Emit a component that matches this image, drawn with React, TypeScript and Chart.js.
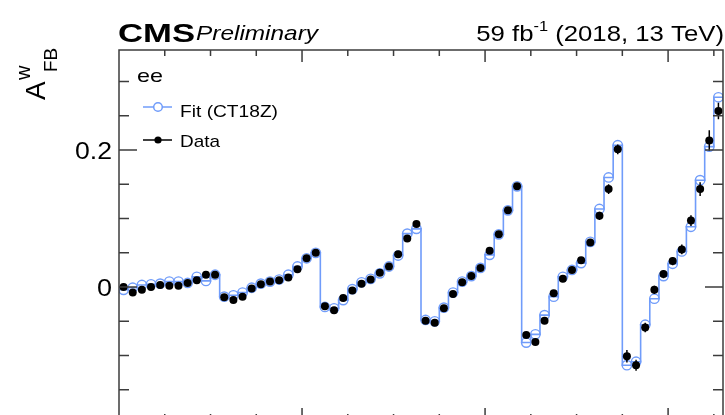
import React, { useEffect, useRef } from 'react';
import { Chart, registerables } from 'chart.js';

Chart.register(...registerables);

// 66 bins: 6 rapidity slices x 11 mass bins
const binCount = 66;

const fitValues = [
  -0.004, -0.001, 0.003, 0.004, 0.005, 0.008, 0.008, 0.006, 0.015, 0.009, 0.018,
  -0.014, -0.012, -0.008, -0.001, 0.005, 0.008, 0.011, 0.018, 0.030, 0.042, 0.050,
  -0.029, -0.031, -0.019, -0.003, 0.007, 0.012, 0.020, 0.030, 0.046, 0.078, 0.085,
  -0.048, -0.050, -0.030, -0.008, 0.008, 0.016, 0.028, 0.047, 0.077, 0.112, 0.147,
  -0.081, -0.069, -0.041, -0.014, 0.015, 0.025, 0.035, 0.066, 0.114, 0.160, 0.207,
  -0.114, -0.109, -0.055, -0.017, 0.016, 0.034, 0.052, 0.088, 0.156, 0.205, 0.277,
];

const dataValues = [
  0.000, -0.008, -0.004, 0.000, 0.003, 0.002, 0.002, 0.006, 0.010, 0.018, 0.018,
  -0.015, -0.019, -0.014, -0.002, 0.004, 0.008, 0.010, 0.014, 0.026, 0.042, 0.050,
  -0.028, -0.034, -0.016, -0.005, 0.005, 0.011, 0.021, 0.030, 0.048, 0.071, 0.092,
  -0.049, -0.052, -0.031, -0.010, 0.007, 0.016, 0.028, 0.053, 0.077, 0.112, 0.147,
  -0.070, -0.080, -0.049, -0.009, 0.012, 0.025, 0.039, 0.065, 0.104, 0.143, 0.201,
  -0.101, -0.114, -0.059, -0.004, 0.019, 0.038, 0.055, 0.097, 0.143, 0.214, 0.257,
];

const dataErrors = [
  0.002, 0.002, 0.002, 0.002, 0.002, 0.002, 0.002, 0.002, 0.002, 0.002, 0.002,
  0.002, 0.002, 0.002, 0.002, 0.002, 0.002, 0.002, 0.002, 0.002, 0.002, 0.002,
  0.003, 0.003, 0.003, 0.003, 0.003, 0.003, 0.003, 0.003, 0.003, 0.003, 0.003,
  0.003, 0.003, 0.003, 0.003, 0.003, 0.003, 0.003, 0.004, 0.004, 0.004, 0.004,
  0.004, 0.004, 0.004, 0.004, 0.004, 0.004, 0.004, 0.005, 0.006, 0.007, 0.007,
  0.009, 0.008, 0.007, 0.006, 0.006, 0.006, 0.007, 0.008, 0.010, 0.015, 0.012,
];

const yMajorTicks = [0, 0.2];
const yTickLabels = ['0', '0.2'];
const legendLabels = ['Fit (CT18Z)', 'Data'];
const channelLabel = 'ee';
const expLabel = 'CMS';
const statusLabel = 'Preliminary';
const lumiParts = ['59 fb', '-1', ' (2018, 13 TeV)'];

const FIT_COLOR = 'rgb(112,156,250)';
const FRAME_COLOR = '#3c3c3c';
const FONT = '"Liberation Sans", Arial, Helvetica, sans-serif';

function drawText(
  ctx: CanvasRenderingContext2D,
  text: string,
  x: number,
  y: number,
  font: string,
  targetWidth?: number,
  align: CanvasTextAlign = 'left'
) {
  ctx.save();
  ctx.font = font;
  const w = ctx.measureText(text).width;
  const sx = targetWidth ? targetWidth / w : 1;
  ctx.translate(x, y);
  ctx.scale(sx, 1);
  ctx.textAlign = align;
  ctx.textBaseline = 'alphabetic';
  ctx.fillStyle = '#000';
  ctx.fillText(text, 0, 0);
  ctx.restore();
}

const cmsPlugin = {
  id: 'cmsStyle',
  beforeDatasetDraw(chart: any, args: any) {
    if (args.index !== 0) return;
    const { ctx, scales } = chart;
    const xs = scales.x;
    const ys = scales.y;
    ctx.save();
    ctx.strokeStyle = '#000';
    ctx.lineWidth = 1.5;
    ctx.beginPath();
    dataValues.forEach((v, i) => {
      const px = xs.getPixelForValue(i + 0.5);
      ctx.moveTo(px, ys.getPixelForValue(v - dataErrors[i]));
      ctx.lineTo(px, ys.getPixelForValue(v + dataErrors[i]));
    });
    ctx.stroke();
    ctx.restore();
  },
  afterDatasetsDraw(chart: any) {
    const { ctx, chartArea, scales } = chart;
    const { left, top, right, bottom } = chartArea;
    const xs = scales.x;
    const ys = scales.y;
    ctx.save();
    ctx.strokeStyle = FRAME_COLOR;
    ctx.lineWidth = 1.5;
    ctx.strokeRect(left, top, right - left, bottom - top);
    ctx.beginPath();
    // y ticks every 0.05, major every 0.2
    for (let k = -4; k <= 7; k++) {
      const v = k * 0.05;
      const py = ys.getPixelForValue(v);
      if (py < top + 0.5 || py > bottom - 0.5) continue;
      const len = k % 4 === 0 ? 18 : 10;
      ctx.moveTo(left, py);
      ctx.lineTo(left + len, py);
      ctx.moveTo(right, py);
      ctx.lineTo(right - len, py);
    }
    // x ticks every 5 bins, major every 20
    for (let k = 5; k < binCount; k += 5) {
      const px = xs.getPixelForValue(k);
      const len = k % 20 === 0 ? 12 : 6;
      ctx.moveTo(px, top);
      ctx.lineTo(px, top + len);
      ctx.moveTo(px, bottom);
      ctx.lineTo(px, bottom - len);
    }
    ctx.stroke();
    ctx.restore();

    // y tick labels
    yMajorTicks.forEach((v, i) => {
      const py = ys.getPixelForValue(v);
      const label = yTickLabels[i];
      drawText(ctx, label, 112, py + 8.5, `23px ${FONT}`, label.length > 1 ? 37 : 15, 'right');
    });

    // header
    drawText(ctx, expLabel, 118, 42, `bold 26px ${FONT}`, 77);
    drawText(ctx, statusLabel, 196, 40, `italic 21px ${FONT}`, 122);
    // luminosity label with superscript
    ctx.save();
    const sx = 1.17;
    ctx.font = `22px ${FONT}`;
    const w0 = ctx.measureText(lumiParts[0]).width;
    const w2 = ctx.measureText(lumiParts[2]).width;
    ctx.font = `14px ${FONT}`;
    const w1 = ctx.measureText(lumiParts[1]).width;
    const total = (w0 + w1 + w2) * sx;
    let x0 = 724 - total;
    ctx.restore();
    drawText(ctx, lumiParts[0], x0, 41, `22px ${FONT}`, w0 * sx);
    x0 += w0 * sx;
    drawText(ctx, lumiParts[1], x0, 31, `14px ${FONT}`, w1 * sx);
    x0 += w1 * sx;
    drawText(ctx, lumiParts[2], x0, 41, `22px ${FONT}`, w2 * sx);

    // y-axis title  A^w_FB
    ctx.save();
    ctx.translate(45, 100);
    ctx.rotate(-Math.PI / 2);
    ctx.fillStyle = '#000';
    ctx.textBaseline = 'alphabetic';
    ctx.font = `28px ${FONT}`;
    ctx.fillText('A', 0, 0);
    ctx.font = `20px ${FONT}`;
    ctx.fillText('w', 20, -15);
    ctx.font = `19px ${FONT}`;
    ctx.fillText('FB', 28, 12);
    ctx.restore();

    // legend
    drawText(ctx, channelLabel, 137, 82, `19px ${FONT}`, 26);
    ctx.save();
    ctx.lineWidth = 1.5;
    ctx.strokeStyle = FIT_COLOR;
    ctx.beginPath();
    ctx.moveTo(143, 107);
    ctx.lineTo(172, 107);
    ctx.stroke();
    ctx.fillStyle = '#fff';
    ctx.beginPath();
    ctx.arc(158, 107, 4.3, 0, Math.PI * 2);
    ctx.fill();
    ctx.stroke();
    ctx.strokeStyle = '#000';
    ctx.beginPath();
    ctx.moveTo(143, 140);
    ctx.lineTo(172, 140);
    ctx.stroke();
    ctx.fillStyle = '#000';
    ctx.beginPath();
    ctx.arc(158, 140, 3.6, 0, Math.PI * 2);
    ctx.fill();
    ctx.restore();
    drawText(ctx, legendLabels[0], 180, 117, `17px ${FONT}`, 98);
    drawText(ctx, legendLabels[1], 180, 147, `17px ${FONT}`, 40);
  },
};

export default function App() {
  const canvasRef = useRef<HTMLCanvasElement | null>(null);

  useEffect(() => {
    const canvas = canvasRef.current;
    if (!canvas) return;

    const fitStep = fitValues.map((v, i) => ({ x: i, y: v }));
    fitStep.push({ x: binCount, y: fitValues[binCount - 1] });
    const fitPoints = fitValues.map((v, i) => ({ x: i + 0.5, y: v }));
    const dataPoints = dataValues.map((v, i) => ({ x: i + 0.5, y: v }));

    const chart = new Chart(canvas, {
      type: 'line',
      data: {
        datasets: [
          {
            label: legendLabels[1],
            data: dataPoints,
            showLine: false,
            pointRadius: 4,
            pointBackgroundColor: '#000',
            pointBorderColor: '#000',
            pointBorderWidth: 0,
            order: 0,
          },
          {
            label: legendLabels[0] + ' markers',
            data: fitPoints,
            showLine: false,
            pointRadius: 4.7,
            pointBackgroundColor: 'rgba(255,255,255,0)',
            pointBorderColor: FIT_COLOR,
            pointBorderWidth: 1.4,
            order: 1,
          },
          {
            label: legendLabels[0],
            data: fitStep,
            stepped: true,
            borderColor: FIT_COLOR,
            borderWidth: 1.6,
            pointRadius: 0,
            fill: false,
            order: 2,
          },
        ],
      },
      options: {
        animation: false,
        responsive: false,
        devicePixelRatio: 1,
        events: [],
        layout: { autoPadding: false, padding: { left: 119, top: 50, right: 2, bottom: 10 } },
        plugins: {
          legend: { display: false },
          title: { display: false },
          tooltip: { enabled: false },
        },
        scales: {
          x: { type: 'linear', min: 0, max: binCount, display: false },
          y: { type: 'linear', min: -0.194, max: 0.346, display: false },
        },
      },
      plugins: [cmsPlugin],
    });

    return () => chart.destroy();
  }, []);

  return (
    <div style={{ position: 'fixed', left: 0, top: 0, width: 725, height: 415, overflow: 'hidden', background: '#fff' }}>
      <canvas ref={canvasRef} width={725} height={430} style={{ width: 725, height: 430, display: 'block' }} />
    </div>
  );
}
